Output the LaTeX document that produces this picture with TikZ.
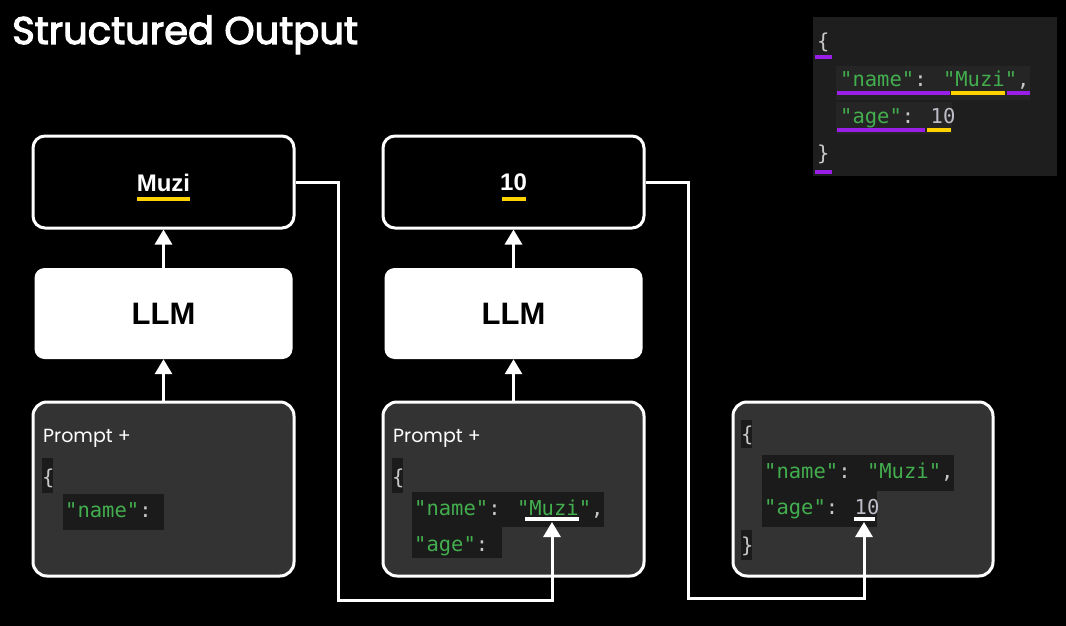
\documentclass[tikz,border=0pt]{standalone}
\usepackage{fontspec}
\setmainfont{Liberation Sans}
\newfontfamily\titlefont{Poppins}
\newfontfamily\titlemed{Poppins}[FakeBold=3]
\newfontfamily\mono{DejaVu Sans Mono}
\usetikzlibrary{arrows.meta}
\definecolor{boxgray}{HTML}{333333}
\definecolor{codebg}{HTML}{1B1B1B}
\definecolor{jsonbg}{HTML}{1E1E1E}
\definecolor{linebg}{HTML}{252525}
\definecolor{jgreen}{HTML}{43AE4E}
\definecolor{jgray}{HTML}{C8C8C8}
\definecolor{jnum}{HTML}{BDBDC8}
\definecolor{jpurple}{HTML}{9A1FE6}
\definecolor{jyellow}{HTML}{FFD200}
\begin{document}
\begin{tikzpicture}[x=1pt,y=-1pt,
  outbox/.style={draw=white, line width=3pt, rounded corners=12pt, fill=black, minimum width=261pt, minimum height=92pt, inner sep=0pt},
  llmbox/.style={fill=white, rounded corners=10pt, minimum width=258pt, minimum height=91pt, inner sep=0pt, font=\bfseries\fontsize{31}{36}\selectfont, text=black},
  promptbox/.style={draw=white, line width=3pt, rounded corners=14pt, fill=boxgray, minimum width=261pt, minimum height=174pt, inner sep=0pt},
  outtext/.style={font=\bfseries\fontsize{24}{28}\selectfont, text=white, inner sep=0pt},
  arr/.style={draw=white, line width=3pt, -{Triangle[width=17pt,length=15pt]}},
  code/.style={font=\mono\fontsize{20.5}{24}\selectfont, anchor=base west, inner sep=0pt, text=jgray},
  ptext/.style={font=\titlefont\fontsize{19}{22}\selectfont, anchor=base west, inner sep=0pt, text=white},
  cbg/.style={fill=codebg},
]
\fill[black] (0,0) rectangle (1066,626);
\useasboundingbox (0,0) rectangle (1066,626);

% title
\node[font=\titlemed\fontsize{38.5}{44}\selectfont, text=white, anchor=base west, inner sep=0pt] (title) at (12,44) {Structured Output};

% ---------- column 1
\node[outbox] (out1) at (163.5,182) {};
\node[outtext] (muzi) at (163.5,182.5) {Muzi};
\fill[jyellow] (137,197) rectangle (190,201);
\node[llmbox] (llm1) at (163.5,313.5) {LLM};
\node[promptbox] (p1) at (163.5,489) {};
\node[ptext] (p1t) at (43,442) {Prompt +};
\fill[cbg] (42,458) rectangle (53,493);
\node[code] (p1b) at (42,484) {\{};
\fill[cbg] (63,494) rectangle (164,530);
\node[code] (p1n) at (65,517) {{\color{jgreen}"name"}: };
\draw[arr] (llm1.north) -- (out1.south);
\draw[arr] (p1.north) -- (llm1.south);

% ---------- column 2
\node[outbox] (out2) at (513.5,182) {};
\node[outtext] (ten) at (513.5,182.5) {10};
\fill[jyellow] (502,197) rectangle (526,201);
\node[llmbox] (llm2) at (513.5,313.5) {LLM};
\node[promptbox] (p2) at (513.5,489) {};
\node[ptext] (p2t) at (393,442) {Prompt +};
\fill[cbg] (392,458) rectangle (403,493);
\node[code] (p2b) at (392,484) {\{};
\fill[cbg] (412,492) rectangle (604,527);
\fill[cbg] (412,526) rectangle (502,558);
\node[code] (p2n) at (414,515) {{\color{jgreen}"name"}: {\color{jgreen}"Muzi"},};
\node[code] (p2a) at (414,551) {{\color{jgreen}"age"}: };
\fill[white] (525,517) rectangle (579,521);
\coordinate (u1) at (552,522);
\draw[arr] (llm2.north) -- (out2.south);
\draw[arr] (p2.north) -- (llm2.south);

% ---------- result box
\node[promptbox, minimum width=260pt] (res) at (863,489) {};
\fill[cbg] (741,420) rectangle (752,448);
\node[code] (rb1) at (741,441) {\{};
\fill[cbg] (762,455) rectangle (954,491);
\fill[cbg] (762,490) rectangle (877,527);
\node[code] (rn) at (764,478) {{\color{jgreen}"name"}: {\color{jgreen}"Muzi"},};
\node[code] (ra) at (764,514) {{\color{jgreen}"age"}: {\color{jnum}10}};
\fill[cbg] (741,530) rectangle (752,560);
\node[code] (rb2) at (741,552) {\}};
\fill[white] (854,517) rectangle (875,521);
\coordinate (u2) at (864,522);

% ---------- connectors
\coordinate (c1) at (338,600);
\coordinate (c2) at (688,598);
\draw[arr] (out1.east) -| (c1) -| (u1);
\draw[arr] (out2.east) -| (c2) -| (u2);

% ---------- top-right json
\node[fill=jsonbg, minimum width=244pt, minimum height=159pt, inner sep=0pt] (json) at (935,96.5) {};
\fill[linebg] (836,66) rectangle (1030,100);
\fill[linebg] (836,102) rectangle (952,134);
\node[code] (j1) at (817,49) {\{};
\fill[jpurple] (815,55) rectangle (832,59);
\node[code] (j2) at (840,86) {{\color{jgreen}"name"}: {\color{jgreen}"Muzi"},};
\fill[jpurple] (837,91) rectangle (950,95);
\fill[jyellow] (951,91) rectangle (1005,95);
\fill[jpurple] (1007,91) rectangle (1030,95);
\node[code] (j3) at (840,123) {{\color{jgreen}"age"}: {\color{jnum}10}};
\fill[jpurple] (837,128) rectangle (925,132);
\fill[jyellow] (927,128) rectangle (951,132);
\node[code] (j4) at (817,160) {\}};
\fill[jpurple] (815,170) rectangle (832,174);
\end{tikzpicture}
\end{document}
